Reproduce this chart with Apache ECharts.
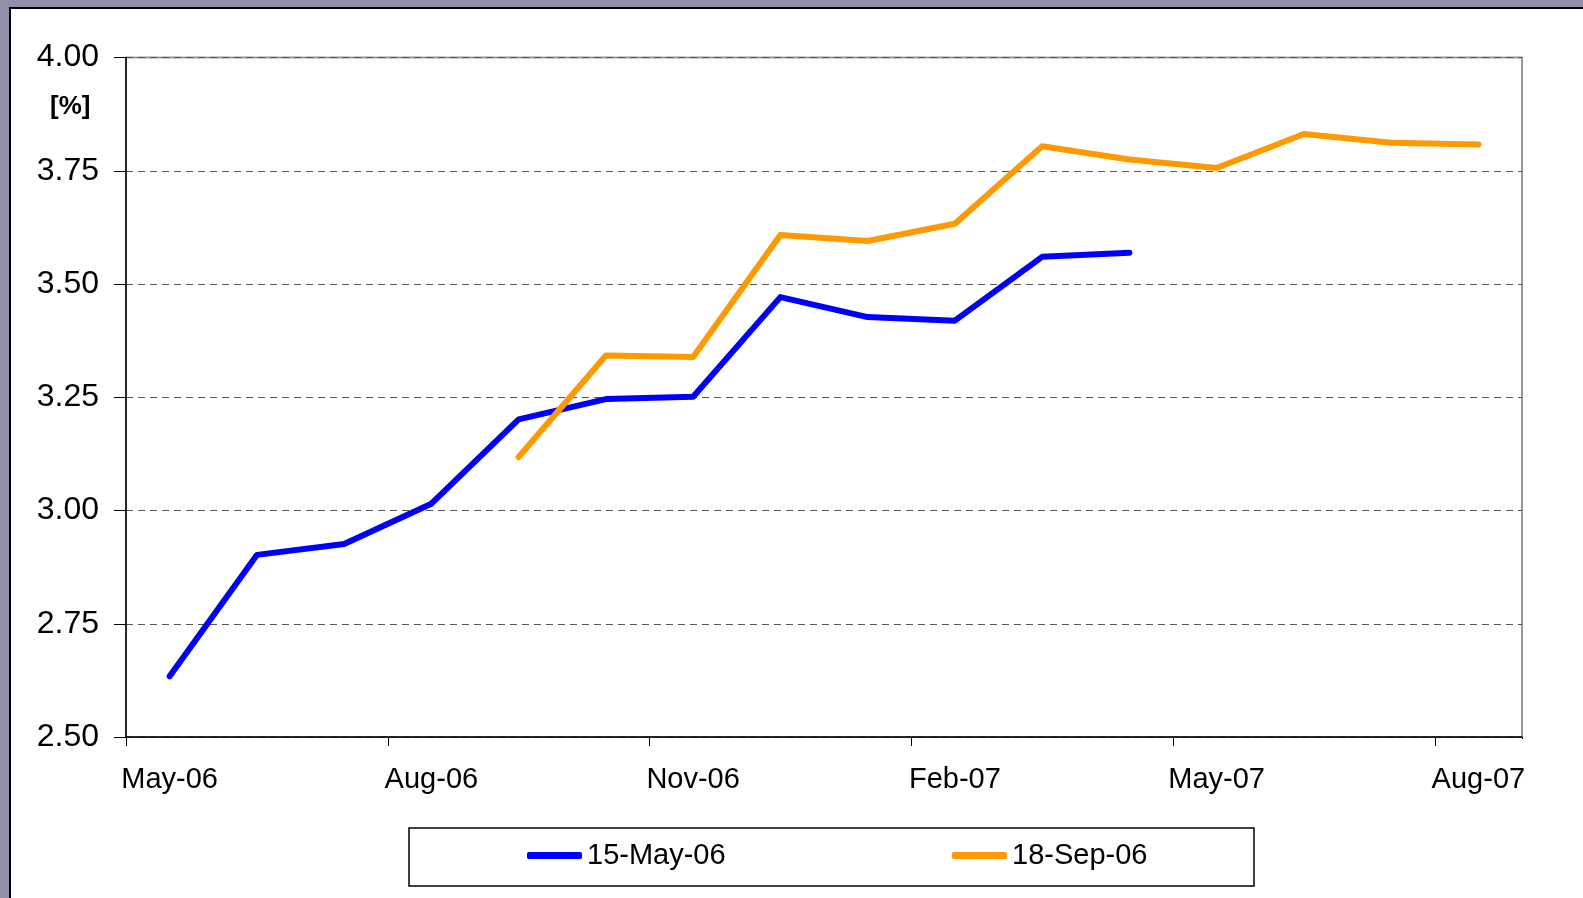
<!DOCTYPE html>
<html>
<head>
<meta charset="utf-8">
<script src="https://cdn.jsdelivr.net/npm/echarts@6/dist/echarts.min.js"></script>
<style>
html,body{margin:0;padding:0;background:#9091a9;}
#chart{width:1583px;height:898px;}
</style>
</head>
<body>
<div id="chart"></div>
<script>
var categories = ['May-06','Jun-06','Jul-06','Aug-06','Sep-06','Oct-06','Nov-06','Dec-06','Jan-07','Feb-07','Mar-07','Apr-07','May-07','Jun-07','Jul-07','Aug-07'];
var seriesNames = ['15-May-06','18-Sep-06'];
var may06 = [2.634, 2.902, 2.926, 3.015, 3.201, 3.246, 3.251, 3.471, 3.427, 3.419, 3.560, 3.569, null, null, null, null];
var sep06 = [null, null, null, null, 3.118, 3.342, 3.339, 3.608, 3.595, 3.633, 3.804, 3.775, 3.756, 3.831, 3.812, 3.808];
var yMin = 2.5, yMax = 4.0, yStep = 0.25;

var FONT = '"Liberation Sans", Arial, sans-serif';
var chart = echarts.init(document.getElementById('chart'));
chart.setOption({
  backgroundColor: '#9091a9',
  animation: false,
  graphic: [
    {type:'rect', z:-10, shape:{x:10, y:8, width:1600, height:920}, style:{fill:'#ffffff', stroke:'#000000', lineWidth:2}},
    {type:'rect', z:1, shape:{x:409, y:828, width:845, height:58}, style:{fill:'#ffffff', stroke:'#000000', lineWidth:1.5}},
    {type:'rect', z:100, shape:{x:1518, y:739, width:8, height:12}, style:{fill:'#ffffff'}},
    {type:'text', z:5, x:50, y:94, style:{text:'[%]', font:'bold 26px ' + FONT, fill:'#000'}}
  ],
  grid: {left:126, top:57.5, right:61, bottom:161, show:true, borderColor:'#999999', borderWidth:2, backgroundColor:'#ffffff'},
  xAxis: {
    type:'category', data:categories, boundaryGap:true,
    axisLine:{lineStyle:{color:'#000', width:1.5}},
    axisTick:{show:true, interval:2, length:9, lineStyle:{color:'#000', width:1}},
    axisLabel:{interval:2, color:'#000', fontSize:29, fontFamily:FONT, margin:28},
    splitLine:{show:false}
  },
  yAxis: {
    type:'value', min:yMin, max:yMax, interval:yStep,
    axisLine:{show:true, lineStyle:{color:'#000', width:1.5}},
    axisTick:{show:true, length:12, lineStyle:{color:'#000', width:1}},
    axisLabel:{color:'#000', fontSize:32, fontFamily:FONT, margin:27, padding:[5,0,0,0], formatter:function(v){return v.toFixed(2);}},
    splitLine:{show:true, lineStyle:{color:'#555', width:1, type:[7,5]}}
  },
  legend: [
    {data:[seriesNames[0]], left:527, top:841, padding:0, itemWidth:55, itemHeight:7, icon:'roundRect', textStyle:{fontSize:29, fontFamily:FONT, color:'#000'}},
    {data:[seriesNames[1]], left:952, top:841, padding:0, itemWidth:55, itemHeight:7, icon:'roundRect', textStyle:{fontSize:29, fontFamily:FONT, color:'#000'}}
  ],
  series: [
    {name:seriesNames[0], type:'line', data:may06, showSymbol:false, symbol:'none', color:'#0000ff', lineStyle:{color:'#0000ff', width:6, cap:'round', join:'round'}, z:3},
    {name:seriesNames[1], type:'line', data:sep06, showSymbol:false, symbol:'none', color:'#ff9900', lineStyle:{color:'#ff9900', width:6, cap:'round', join:'round'}, z:4}
  ]
});
</script>
</body>
</html>
